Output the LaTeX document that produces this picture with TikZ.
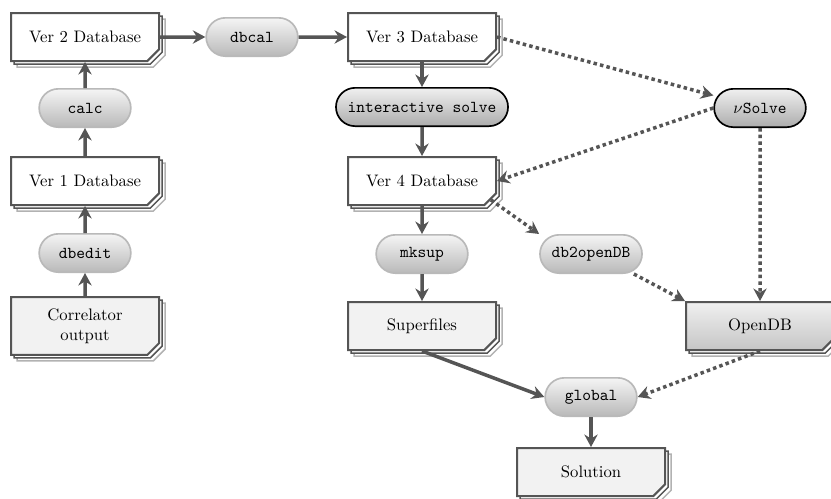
\documentclass[tikz,border=0pt]{standalone}
\usetikzlibrary{arrows.meta,shapes.misc,shadows}
\definecolor{edgegray}{HTML}{555555}

\begin{document}
\begin{tikzpicture}[x=0.6pt, y=-0.6pt]
  \tikzstyle{stack} = [copy shadow={shadow xshift=3.6pt, shadow yshift=-3.6pt, draw=gray!60, fill=white, line width=0.9pt}, copy shadow={shadow xshift=1.8pt, shadow yshift=-1.8pt, draw=edgegray, fill=white, line width=0.9pt}]
  \tikzstyle{db} = [stack, chamfered rectangle, chamfered rectangle corners=south east, chamfered rectangle xsep=3.5pt, chamfered rectangle ysep=3.5pt, draw=edgegray, fill=white, line width=1.2pt, minimum width=88.8pt, minimum height=28.8pt]
  \tikzstyle{data} = [db, fill=gray!10]
  \tikzstyle{opendata} = [db, top color=gray!12, bottom color=gray!45]
  \tikzstyle{tool} = [rectangle, rounded corners=11.5pt, draw=gray!55, line width=1pt, top color=gray!8, bottom color=gray!55, minimum height=23pt, minimum width=55pt, inner xsep=7pt, font=\ttfamily]
  \tikzstyle{itool} = [tool, draw=black, top color=gray!12, bottom color=gray!65]
  \tikzstyle{arrow} = [-{Stealth[length=7.5pt, width=8pt, inset=2.5pt]}, line width=2.1pt, draw=edgegray]
  \tikzstyle{dotarrow} = [arrow, dash pattern=on 2.1pt off 1.9pt]

  \useasboundingbox (0,0) rectangle (831,498);

  \node [db] at (85,37) (ver2) {Ver 2 Database};
  \node [tool] at (252,37) (dbcal) {dbcal};
  \node [db] at (422,37) (ver3) {Ver 3 Database};
  \node [tool] at (85,108) (calc) {calc};
  \node [itool] at (422,107) (isolve) {interactive solve};
  \node [itool] at (760,108) (nusolve) {$\nu$Solve};
  \node [db] at (85,181) (ver1) {Ver 1 Database};
  \node [db] at (422,181) (ver4) {Ver 4 Database};
  \node [tool] at (85,253) (dbedit) {dbedit};
  \node [tool] at (422,254) (mksup) {mksup};
  \node [tool] at (591,254) (db2open) {db2openDB};
  \node [data, minimum height=34pt, align=center] at (85,326) (corr) {Correlator\\output};
  \node [data] at (422,326) (superfiles) {Superfiles};
  \node [opendata] at (760,326) (opendb) {OpenDB};
  \node [tool] at (591,397) (global) {global};
  \node [data] at (591,472) (solution) {Solution};

  \draw[arrow] (corr) to (dbedit);
  \draw[arrow] (dbedit) to (ver1);
  \draw[arrow] (ver1) to (calc);
  \draw[arrow] (calc) to (ver2);
  \draw[arrow] (ver2) to (dbcal);
  \draw[arrow] (dbcal) to (ver3);
  \draw[arrow] (ver3) to (isolve);
  \draw[arrow] (isolve) to (ver4);
  \draw[arrow] (ver4) to (mksup);
  \draw[arrow] (mksup) to (superfiles);
  \draw[arrow] (superfiles.south) to (global.west);
  \draw[arrow] (global) to (solution);
  \draw[dotarrow] (ver3.east) to (nusolve.165);
  \draw[dotarrow] (nusolve.west) to (ver4.east);
  \draw[dotarrow] (ver4.south east) to (db2open.north west);
  \draw[dotarrow] (db2open.-25) to (opendb.north west);
  \draw[dotarrow] (nusolve) to (opendb);
  \draw[dotarrow] (opendb.south) to (global.east);
\end{tikzpicture}
\end{document}
